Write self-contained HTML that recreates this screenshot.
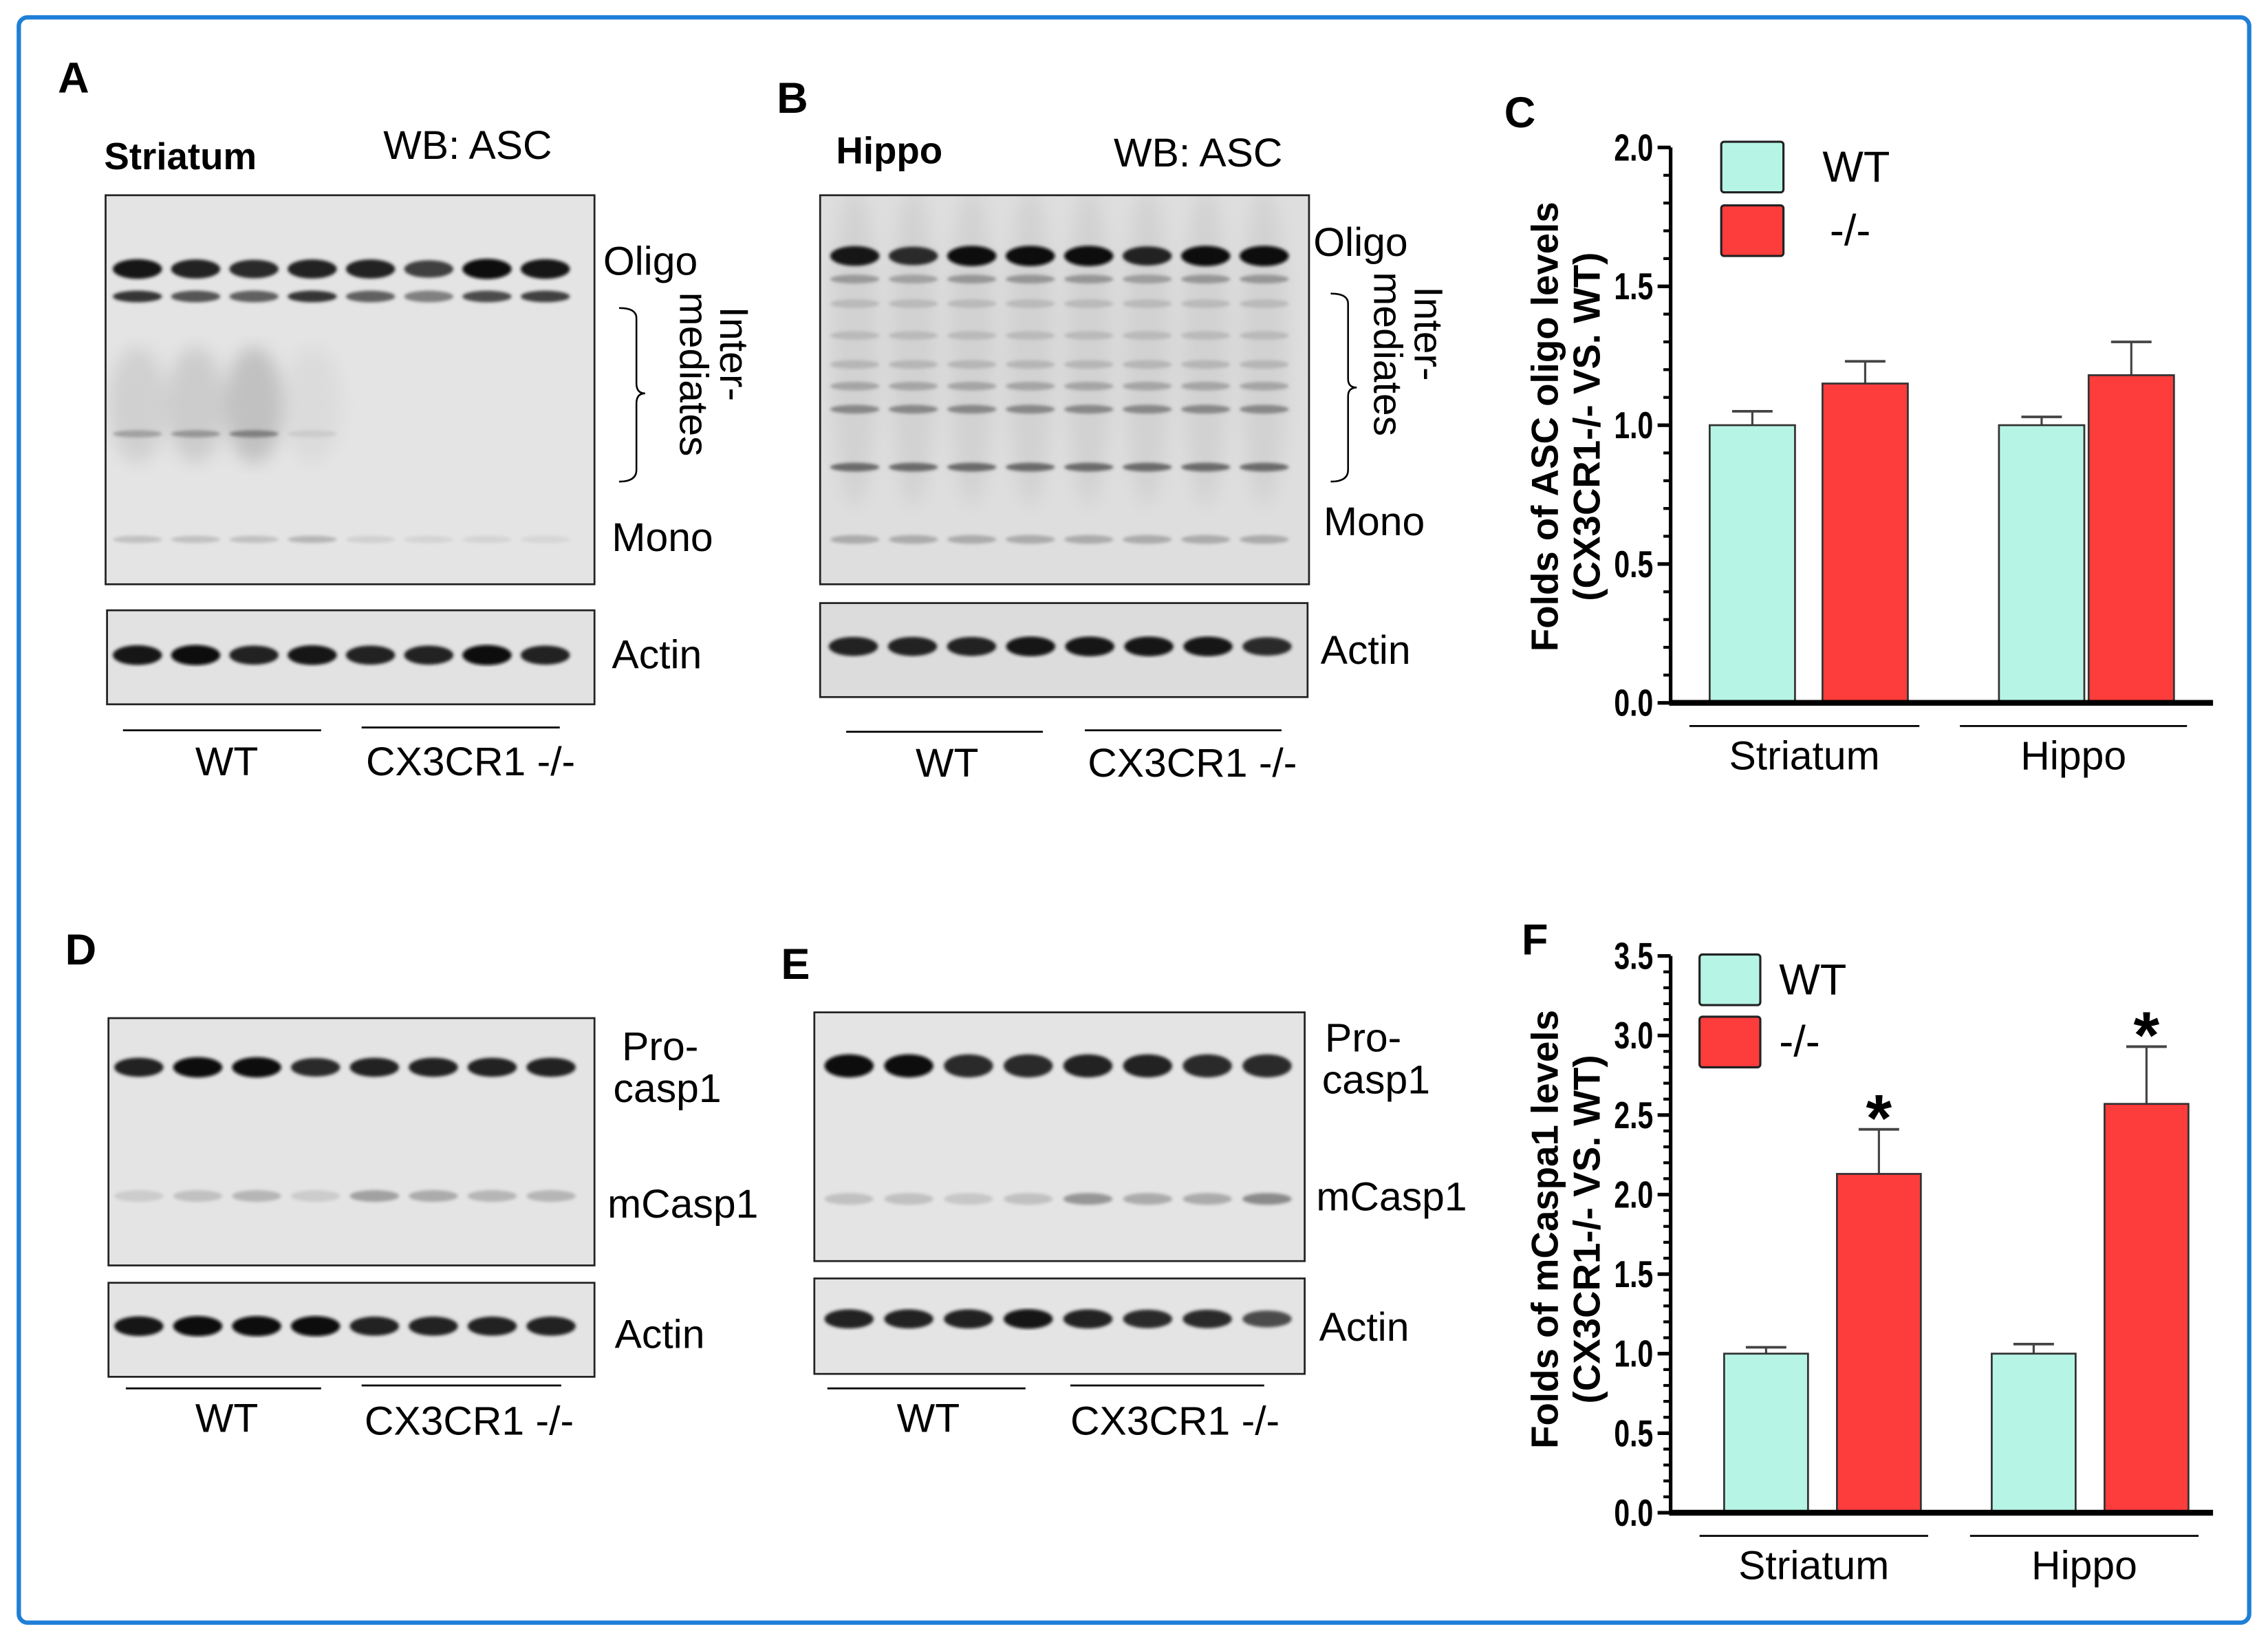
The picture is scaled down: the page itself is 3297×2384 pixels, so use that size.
<!DOCTYPE html>
<html><head><meta charset="utf-8"><style>
html,body{margin:0;padding:0;background:#fff}
svg{display:block}
text{font-family:"Liberation Sans",sans-serif}
</style></head><body>
<svg id="fig" width="3297" height="2384" viewBox="0 0 1568 1134" preserveAspectRatio="none" xmlns="http://www.w3.org/2000/svg">
<defs id="defs">
<filter id="blur1"><feGaussianBlur stdDeviation="1.2"/></filter>
<filter id="blur3"><feGaussianBlur stdDeviation="6"/></filter>
</defs>
<rect x="13" y="12" width="1542" height="1110" rx="6" fill="#fff" stroke="#1f7fd6" stroke-width="3"/>
<g id="blots"></g>
<g id="charts"></g>
<g font-weight="bold" font-size="30" fill="#000">
<text x="40" y="64">A</text><text x="537" y="78">B</text><text x="1040" y="88">C</text>
<text x="45" y="667">D</text><text x="540" y="677">E</text><text x="1052" y="660">F</text>
</g>
<g font-size="28" fill="#000">
<text x="72" y="117" font-weight="bold" font-size="26">Striatum</text><text x="265" y="110">WB: ASC</text>
<text x="578" y="113" font-weight="bold" font-size="26">Hippo</text><text x="770" y="115">WB: ASC</text>
<text x="417" y="190">Oligo</text><text x="423" y="381">Mono</text><text x="423" y="462">Actin</text>
<text x="908" y="177">Oligo</text><text x="915" y="370">Mono</text><text x="913" y="459">Actin</text>
<text x="430" y="733">Pro-</text><text x="424" y="762">casp1</text><text x="420" y="842">mCasp1</text><text x="425" y="932">Actin</text>
<text x="916" y="727">Pro-</text><text x="914" y="756">casp1</text><text x="910" y="837">mCasp1</text><text x="912" y="927">Actin</text>
<g transform="translate(498,212) rotate(90)"><text x="0" y="0">Inter-</text><text x="-10" y="28">mediates</text></g>
<g transform="translate(978,198) rotate(90)"><text x="0" y="0">Inter-</text><text x="-10" y="28">mediates</text></g>
<text x="135" y="536">WT</text><text x="253" y="536">CX3CR1 -/-</text>
<text x="633" y="537">WT</text><text x="752" y="537">CX3CR1 -/-</text>
<text x="135" y="990">WT</text><text x="252" y="992">CX3CR1 -/-</text>
<text x="620" y="990">WT</text><text x="740" y="992">CX3CR1 -/-</text>
</g>
<g stroke="#000" stroke-width="1.3">
<line x1="85" y1="505" x2="222" y2="505"/><line x1="250" y1="503" x2="387" y2="503"/>
<line x1="585" y1="506" x2="721" y2="506"/><line x1="750" y1="505" x2="886" y2="505"/>
<line x1="87" y1="960" x2="222" y2="960"/><line x1="250" y1="958" x2="388" y2="958"/>
<line x1="572" y1="960" x2="709" y2="960"/><line x1="740" y1="958" x2="874" y2="958"/>
</g>
<g fill="none" stroke="#000" stroke-width="1.2">
<path d="M428,213 Q440,213 440,220 L440,265 Q440,272 446,272 Q440,272 440,279 L440,325 Q440,333 428,333"/>
<path d="M920,203 Q932,203 932,210 L932,262 Q932,268 938,268 Q932,268 932,274 L932,325 Q932,333 920,333"/>
</g>
</svg>
<script>
// ---- blot lane intensity data ----
const blotA_oligo=[0.95,0.9,0.85,0.9,0.9,0.75,1,0.95];
const blotA_oligo2=[0.8,0.65,0.6,0.8,0.6,0.45,0.7,0.75];
const blotA_mono=[0.15,0.15,0.15,0.2,0.08,0.06,0.06,0.05];
const blotA_inter=[0.08,0.1,0.15,0.03,0,0,0,0];
const blotA_interBand=[0.3,0.35,0.45,0.1,0,0,0,0];
const blotA_actin=[0.95,1,0.9,0.95,0.9,0.9,1,0.9];
const blotB_oligo=[0.95,0.85,1,1,1,0.9,1,1];
const blotB_actin=[0.9,0.9,0.9,0.95,0.95,0.95,0.95,0.85];
const blotD_pro=[0.9,1,1,0.85,0.9,0.9,0.9,0.9];
const blotD_m=[0.1,0.15,0.2,0.1,0.3,0.25,0.2,0.2];
const blotD_actin=[0.95,1,1,1,0.9,0.9,0.9,0.9];
const blotE_pro=[1,1,0.85,0.85,0.9,0.9,0.85,0.85];
const blotE_m=[0.15,0.15,0.12,0.15,0.35,0.25,0.25,0.4];
const blotE_actin=[0.9,0.9,0.9,0.95,0.9,0.85,0.85,0.7];

// ---- chart data ----
const categories=["Striatum","Hippo"];
const seriesNames=["WT","-/-"];
const C_wt=[1.0,1.0], C_wtErr=[0.05,0.03];
const C_ko=[1.15,1.18], C_koErr=[0.08,0.12];
const C_ticks=["0.0","0.5","1.0","1.5","2.0"];
const F_wt=[1.0,1.0], F_wtErr=[0.04,0.06];
const F_ko=[2.13,2.57], F_koErr=[0.28,0.36];
const F_ticks=["0.0","0.5","1.0","1.5","2.0","2.5","3.0","3.5"];
const F_sig=[true,true];

const NS="http://www.w3.org/2000/svg";
function mk(tag,attrs,parent){const e=document.createElementNS(NS,tag);for(const k in attrs)e.setAttribute(k,attrs[k]);parent.appendChild(e);return e;}
const blots=document.getElementById('blots');
const defs=document.getElementById('defs');
function gray(v){const c=Math.round(225-215*v);return `rgb(${c},${c},${c})`;}
function blot(name,x,y,w,h,bg,x0,x1,rows){
  const cp=mk('clipPath',{id:'clip-'+name},defs);
  mk('rect',{x:x,y:y,width:w,height:h},cp);
  const g=mk('g',{},blots);
  
  
  mk('rect',{x:x,y:y,width:w,height:h,fill:bg},g);
  const gc=mk('g',{'clip-path':`url(#clip-${name})`},g);
  const gs=mk('g',{filter:'url(#blur3)'},gc);
  const gb=mk('g',{filter:'url(#blur1)'},gc);
  mk('rect',{x:x,y:y,width:w,height:h,fill:'none',stroke:'#222','stroke-width':1.3},g);
  rows.forEach(r=>{
    r.vals.forEach((v,i)=>{
      if(v<=0)return;
      const cx=x0+(x1-x0)*i/7;
      const b=mk('ellipse',{cx:cx,cy:r.y,rx:r.rx||17,ry:r.ry||(3+4*v),fill:gray(v)},r.soft?gs:gb);
      
      
    });
  });
}
blot('blot-a-asc',73,135,338,269,'#e4e4e4',95,377,[
 {y:186,vals:blotA_oligo},{y:205,vals:blotA_oligo2,ry:4},
 {y:280,vals:blotA_inter,soft:true,rx:20,ry:40},
 {y:300,vals:blotA_interBand,ry:2.5},
 {y:373,vals:blotA_mono,ry:2.5}]);
blot('blot-a-actin',74,422,337,65,'#e2e2e2',95,377,[{y:453,vals:blotA_actin}]);
blot('blot-b-asc',567,135,338,269,'#dedede',591,874,[
 {y:240,vals:blotB_oligo.map(()=>0.07),soft:true,rx:16,ry:110},
 {y:177,vals:blotB_oligo},{y:193,vals:blotB_oligo.map(v=>v*0.35),ry:3},
 {y:210,vals:blotB_oligo.map(()=>0.18),ry:3},{y:232,vals:blotB_oligo.map(()=>0.18),ry:3},
 {y:252,vals:blotB_oligo.map(()=>0.2),ry:3},{y:267,vals:blotB_oligo.map(()=>0.28),ry:3},
 {y:283,vals:blotB_oligo.map(()=>0.42),ry:3},{y:323,vals:blotB_oligo.map(()=>0.55),ry:3},
 {y:373,vals:blotB_oligo.map(()=>0.25),ry:3}]);
blot('blot-b-actin',567,417,337,65,'#dcdcdc',590,876,[{y:447,vals:blotB_actin}]);
blot('blot-d-casp1',75,704,336,171,'#e4e4e4',96,381,[{y:738,vals:blotD_pro},{y:827,vals:blotD_m,ry:4}]);
blot('blot-d-actin',75,887,336,65,'#e4e4e4',96,381,[{y:917,vals:blotD_actin}]);
blot('blot-e-casp1',563,700,339,172,'#e4e4e4',587,876,[{y:737,vals:blotE_pro,ry:8},{y:829,vals:blotE_m,ry:4}]);
blot('blot-e-actin',563,884,339,66,'#e4e4e4',587,876,[{y:912,vals:blotE_actin}]);

const charts=document.getElementById('charts');
function chart(o){
  const g=mk('g',{},charts);
  
  
  const yS=v=>o.y0-(o.y0-o.yTop)*v/o.max;
  for(let v=0;v<=o.max+1e-9;v+=o.minor){mk('line',{x1:o.ax-5,x2:o.ax,y1:yS(v),y2:yS(v),stroke:'#000','stroke-width':2},g);}
  o.ticks.forEach(t=>{const v=parseFloat(t);
    mk('line',{x1:o.ax-9,x2:o.ax,y1:yS(v),y2:yS(v),stroke:'#000','stroke-width':2.5},g);
    const tx=mk('text',{x:o.ax-12,y:yS(v)+9,'text-anchor':'end','font-size':26,'font-weight':'bold',transform:`translate(${o.ax-12},0) scale(0.75,1) translate(${-(o.ax-12)},0)`},g);
    tx.textContent=t;
    
    
  });
  const yAx=mk('line',{x1:o.ax,x2:o.ax,y1:o.yTop,y2:o.y0,stroke:'#000','stroke-width':2.5},g);
  
  
  const series=[[o.wt,o.wtErr,'#b6f5e6'],[o.ko,o.koErr,'#fd3c3c']];
  categories.forEach((c,i)=>{
    series.forEach((s,j)=>{
      const x=o.barX[i][j], v=s[0][i], e=s[1][i];
      const top=yS(v+e);
      mk('line',{x1:x+o.bw/2,x2:x+o.bw/2,y1:yS(v),y2:top,stroke:'#444','stroke-width':1.5},g);
      mk('line',{x1:x+o.bw/2-14,x2:x+o.bw/2+14,y1:top,y2:top,stroke:'#444','stroke-width':1.8},g);
      const r=mk('rect',{x:x,y:yS(v),width:o.bw,height:o.y0-yS(v),fill:s[2],stroke:'#333','stroke-width':1.3},g);
      
      
      if(j===1&&o.sig&&o.sig[i]){const st=mk('text',{x:x+o.bw/2,y:top+8,'text-anchor':'middle','font-size':46,'font-weight':'bold'},g);st.textContent='*';
        
        }
    });
    const gl=o.groupLine[i];
    mk('line',{x1:gl[0],x2:gl[1],y1:o.y0+16,y2:o.y0+16,stroke:'#000','stroke-width':1.3},g);
    const ct=mk('text',{x:(gl[0]+gl[1])/2,y:o.y0+46,'text-anchor':'middle','font-size':28},g);ct.textContent=c;
    
    
  });
  const xAx=mk('line',{x1:o.ax-1,x2:1530,y1:o.y0,y2:o.y0,stroke:'#000','stroke-width':4},g);
  
  
  seriesNames.forEach((n,j)=>{
    const l=o.leg[j];
    const lr=mk('rect',{x:l[0],y:l[1],width:o.legW,height:o.legH,fill:series[j][2],stroke:'#222','stroke-width':1.5,rx:2},g);
    
    
    const lt=mk('text',{x:l[2],y:l[1]+o.legH/2+10,'font-size':30},g);lt.textContent=n;
    
    
  });
  const yt=mk('g',{transform:`translate(${o.titleX},${o.titleY}) rotate(-90)`,'font-size':26,'font-weight':'bold','text-anchor':'middle'},g);
  
  
  const t1=mk('text',{x:0,y:0},yt);t1.textContent=o.title1;
  const t2=mk('text',{x:0,y:29},yt);t2.textContent='(CX3CR1-/- VS. WT)';
}
chart({name:'chart-c-asc-oligo',ax:1155,y0:486,yTop:102,max:2.0,minor:0.1,ticks:C_ticks,
 wt:C_wt,wtErr:C_wtErr,ko:C_ko,koErr:C_koErr,barX:[[1182,1260],[1382,1444]],bw:59,
 groupLine:[[1168,1327],[1355,1512]],leg:[[1190,98,1260],[1190,142,1265]],legW:43,legH:35,
 titleX:1077,titleY:295,title1:'Folds of ASC oligo levels'});
chart({name:'chart-f-mcaspa1',ax:1155,y0:1046,yTop:661,max:3.5,minor:0.1,ticks:F_ticks,
 wt:F_wt,wtErr:F_wtErr,ko:F_ko,koErr:F_koErr,barX:[[1192,1270],[1377,1455]],bw:58,sig:F_sig,
 groupLine:[[1175,1333],[1362,1520]],leg:[[1175,660,1230],[1175,703,1230]],legW:42,legH:35,
 titleX:1077,titleY:850,title1:'Folds of mCaspa1 levels'});
</script>
</body></html>
